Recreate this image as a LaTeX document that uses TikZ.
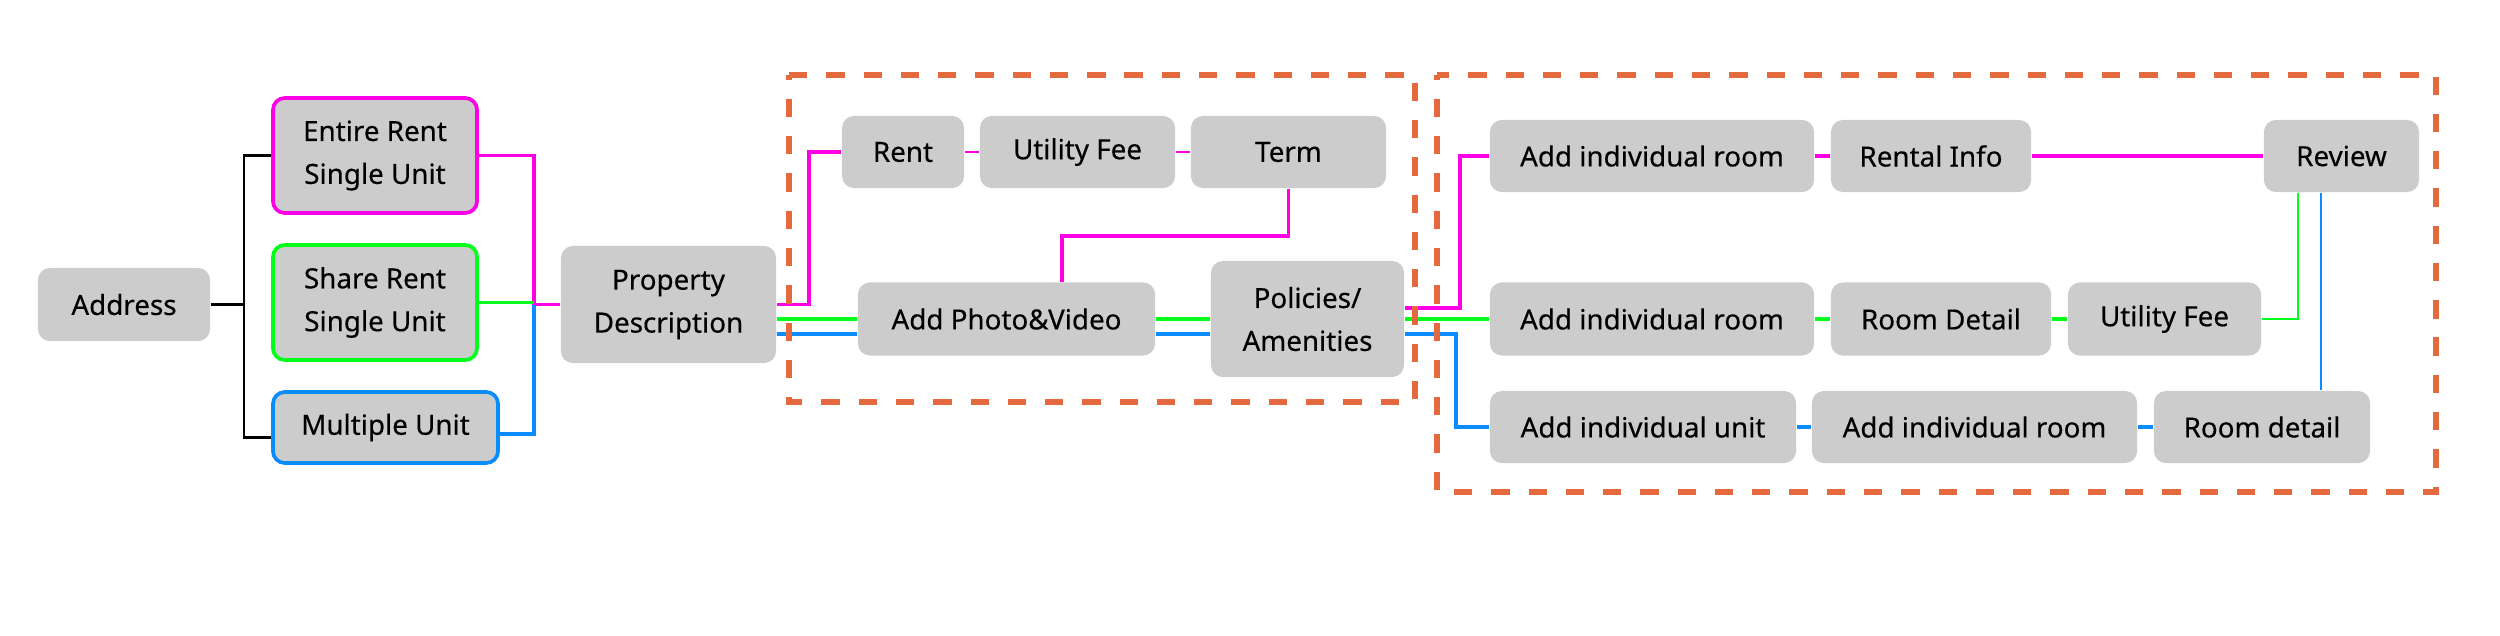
\documentclass[tikz,border=0pt]{standalone}
\usepackage{fontspec}
\setmainfont{Noto Sans}
\newfontfamily\boxfont[FakeBold=0.35]{Noto Sans}
\usetikzlibrary{backgrounds,calc}
\definecolor{boxgray}{HTML}{CCCCCC}
\definecolor{mag}{HTML}{FF00E6}
\definecolor{grn}{HTML}{00FF19}
\definecolor{blu}{HTML}{0A8CFF}
\definecolor{dashor}{HTML}{E4693E}
\tikzset{
  box/.style={fill=boxgray, rounded corners=3.4pt, inner sep=0pt, align=center,
    font=\boxfont\fontsize{7.9}{12.2}\selectfont, text=black},
  mline/.style={draw=mag, line width=1.1pt},
  mthin/.style={draw=mag, line width=0.5pt},
  gline/.style={draw=grn, line width=1.1pt},
  gmid/.style={draw=grn, line width=0.8pt},
  bline/.style={draw=blu, line width=1.1pt},
  bthin/.style={draw=blu, line width=0.8pt},
  blk/.style={draw=black, line width=0.6pt},
  dashbox/.style={draw=dashor, line width=1.85pt, dash pattern=on 5.2pt off 5.4pt, dash phase=3.8pt},
}
\begin{document}
\begin{tikzpicture}[x=0.01cm,y=-0.01cm]
\useasboundingbox (0,0) rectangle (2500,635);
% left part
\node[box,minimum width=1.72cm,minimum height=0.73cm] (addr) at (124,304.5) {Address};
\node[box,draw=mag,line width=1.05pt,minimum width=2.04cm,minimum height=1.15cm] (entire) at (375,155.5) {Entire Rent\\Single Unit};
\node[box,draw=grn,line width=1.05pt,minimum width=2.04cm,minimum height=1.15cm] (share) at (375,302.5) {Share Rent\\Single Unit};
\node[box,draw=blu,line width=1.05pt,minimum width=2.25cm,minimum height=0.71cm] (multi) at (385.5,427.5) {Multiple Unit};
\node[box,minimum width=2.15cm,minimum height=1.17cm] (prop) at (668.5,304.5) {Property\\Description};
% first dashed group
\node[box,minimum width=1.22cm,minimum height=0.72cm] (rent) at (903,152) {Rent};
\node[box,minimum width=1.95cm,minimum height=0.72cm] (util1) at (1077.5,152) {Utility Fee};
\node[box,minimum width=1.95cm,minimum height=0.72cm] (term) at (1288.5,152) {Term};
\node[box,minimum width=2.97cm,minimum height=0.73cm] (photo) at (1006.5,319) {Add Photo\&Video};
\node[box,minimum width=1.93cm,minimum height=1.16cm] (pol) at (1307.5,319) {Policies/\\Amenities};
% second dashed group
\node[box,minimum width=3.24cm,minimum height=0.72cm] (air1) at (1652,156) {Add individual room};
\node[box,minimum width=2.00cm,minimum height=0.72cm] (rinfo) at (1931,156) {Rental Info};
\node[box,minimum width=1.55cm,minimum height=0.72cm] (review) at (2341.5,156) {Review};
\node[box,minimum width=3.24cm,minimum height=0.73cm] (air2) at (1652,319) {Add individual room};
\node[box,minimum width=2.20cm,minimum height=0.73cm] (rdetail) at (1941,319) {Room Detail};
\node[box,minimum width=1.93cm,minimum height=0.73cm] (util2) at (2164.5,319) {Utility Fee};
\node[box,minimum width=3.06cm,minimum height=0.72cm] (aiu) at (1643,427) {Add individual unit};
\node[box,minimum width=3.25cm,minimum height=0.72cm] (air3) at (1974.5,427) {Add individual room};
\node[box,minimum width=2.16cm,minimum height=0.72cm] (rdet) at (2262,427) {Room detail};
% junction coordinates
\coordinate (bus) at (244,304.5);
\coordinate (jl) at (534,304.5);
\coordinate (jm) at (809,152);
\coordinate (jr) at (1460,156);
\coordinate (jb) at (1456,427);
\begin{scope}[on background layer]
  \draw[blk] (addr.east) -- (bus);
  \draw[blk] (entire.west) -| (bus) |- ([yshift=-0.1cm]multi.west);
  \draw[mline] (entire.east) -| (jl) -- (prop.west);
  \draw[gline] (share.east) -- (share.east -| jl);
  \draw[bline] ([yshift=-0.065cm]multi.east) -| (jl);
  \draw[mline] (prop.east) -| (jm) -- (rent.west);
  \draw[mthin] (rent.east) -- (util1.west);
  \draw[mthin] (util1.east) -- (term.west);
  \draw[mline] (term.south) -- ++(0,47) -| ([xshift=0.555cm]photo.north);
  \draw[gline] ([yshift=-0.145cm]prop.east) -- (photo.west);
  \draw[gline] (photo.east) -- (pol.west);
  \draw[gline] (pol.east) -- (air2.west);
  \draw[bline] ([yshift=-0.295cm]prop.east) -- ([yshift=-0.15cm]photo.west);
  \draw[bline] ([yshift=-0.15cm]photo.east) -- ([yshift=-0.15cm]pol.west);
  \draw[bline] ([yshift=-0.15cm]pol.east) -| (jb) -- (aiu.west);
  \draw[mline] ([yshift=0.11cm]pol.east) -| (jr) -- (air1.west);
  \draw[mline] (air1.east) -- (rinfo.west);
  \draw[mline] (rinfo.east) -- (review.west);
  \draw[gline] (air2.east) -- (rdetail.west);
  \draw[gline] (rdetail.east) -- (util2.west);
  \draw[gmid] (util2.east) -| ([xshift=-0.435cm]review.south);
  \draw[bline] (aiu.east) -- (air3.west);
  \draw[bline] (air3.east) -- (rdet.west);
  \draw[bthin] ([xshift=0.59cm]rdet.north) -- ([xshift=0.59cm]rdet.north |- review.south);
\end{scope}
% dashed groups
\draw[dashbox] (789,75) rectangle (1415,402);
\draw[dashbox] (1437,75) rectangle (2436,492);
\end{tikzpicture}
\end{document}
